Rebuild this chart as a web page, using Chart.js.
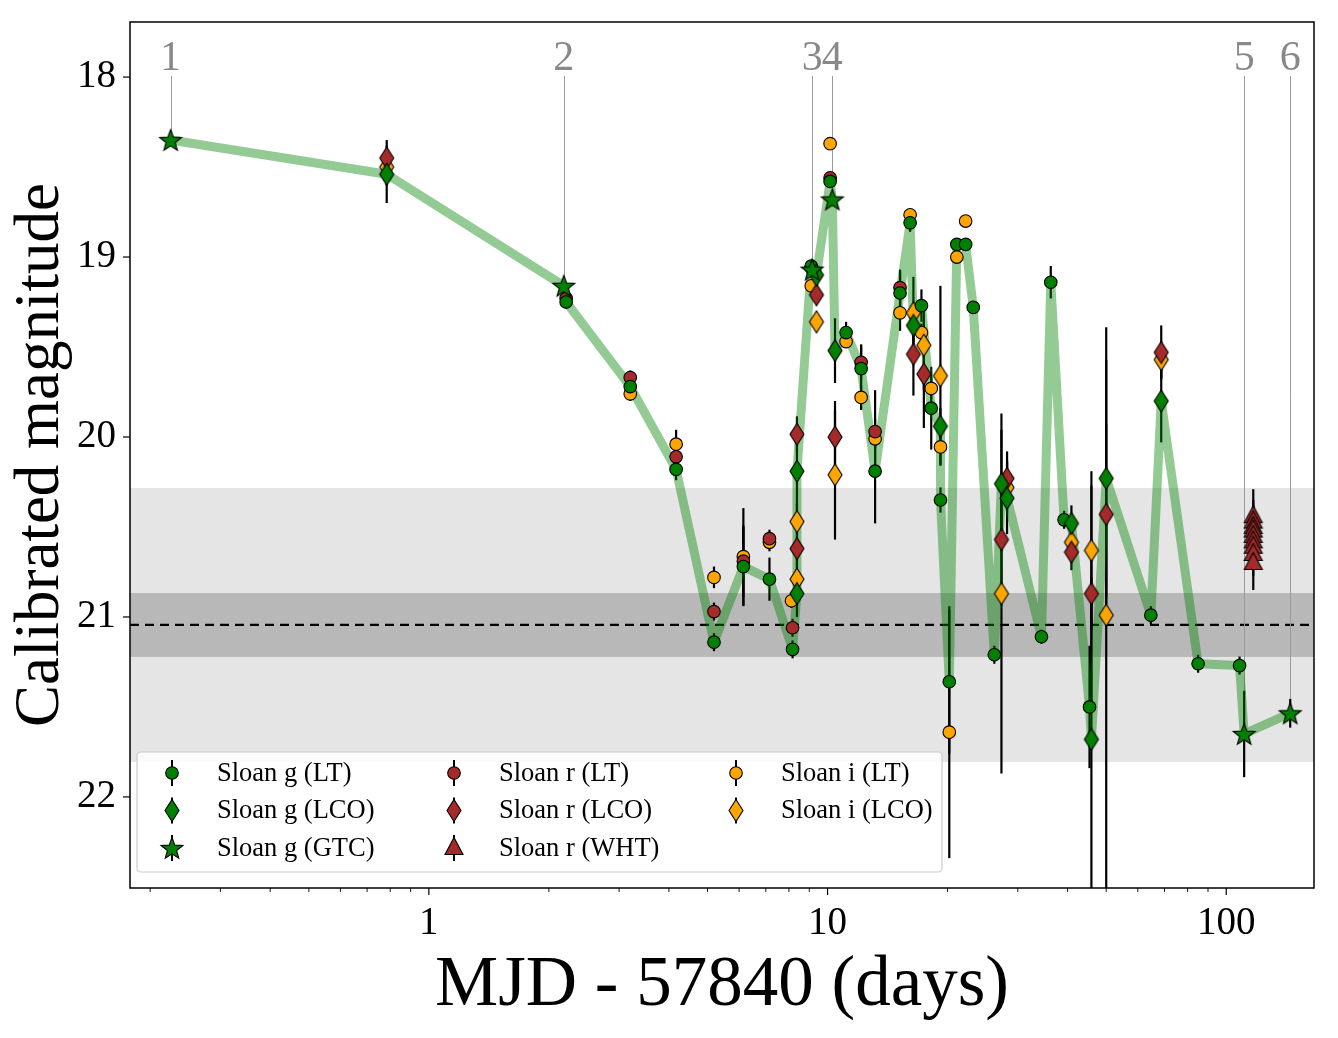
<!DOCTYPE html>
<html><head><meta charset="utf-8">
<script src="https://cdn.jsdelivr.net/npm/chart.js@4"></script>
<style>html,body{margin:0;background:#fff}</style>
</head><body>
<canvas id="c" width="1338" height="1038"></canvas>
<script>
// axis setup
const xTicks=[1,10,100];
const yTicks=[18,19,20,21,22];
const xRange=[0.178,166];
const yRange=[17.694,22.506];
// reference level and bands (mag)
const bandWide=[20.283,21.806];
const bandNarrow=[20.867,21.222];
const refLevel=21.044;

// Sloan g (LT)
const gLT_t=[2.21,3.20,4.17,5.19,6.15,7.15,8.17,9.10,10.15,11.13,12.14,13.16,15.20,16.11,17.2,18.2,19.2,20.2,21.1,22.2,23.2,26.2,34.4,36.3,39.2,45.4,64.7,85.0,108.0];
const gLT_m=[19.25,19.72,20.18,21.14,20.72,20.79,21.18,19.05,18.58,19.42,19.62,20.19,19.20,18.81,19.27,19.84,20.35,21.36,18.93,18.93,19.28,21.21,21.11,19.14,20.46,21.50,20.99,21.26,21.27];
const gLT_e=[0.03,0.04,0.06,0.05,0.22,0.12,0.05,0.03,0.03,0.06,0.13,0.29,0.12,0.05,0.09,0.23,0.07,0.40,0.03,0.03,0.03,0.05,0.04,0.09,0.05,0.34,0.05,0.05,0.05];
// Sloan g (LCO)
const gLCO_t=[0.784,8.38,8.38,9.38,10.44,16.42,19.19,27.3,28.2,40.9,45.9,50.0,68.7];
const gLCO_m=[18.54,20.87,20.19,19.10,19.52,19.38,19.94,20.26,20.34,20.48,21.68,20.23,19.80];
const gLCO_e=[0.16,0.13,0.25,0.04,0.18,0.10,0.10,0.30,0.20,0.10,0.90,0.66,0.23];
// Sloan g (GTC)
const gGTC_t=[0.225,2.18,9.15,10.28,110.9,144.7];
const gGTC_m=[18.35,19.16,19.07,18.68,21.65,21.535];
const gGTC_e=[0.03,0.03,0.03,0.03,0.24,0.08];
const epochLabels=['1','2','3','4','5','6'];
// Sloan r (LT)
const rLT_t=[2.21,3.20,4.17,5.19,6.15,7.15,8.17,9.10,10.15,12.14,13.16,15.20];
const rLT_m=[19.23,19.67,20.11,20.97,20.69,20.565,21.06,19.06,18.56,19.585,19.97,19.17];
const rLT_e=[0.03,0.04,0.05,0.05,0.2,0.05,0.05,0.03,0.03,0.10,0.23,0.10];
// Sloan r (LCO)
const rLCO_t=[0.784,8.38,8.38,9.38,10.44,16.42,17.44,27.3,28.2,40.9,45.9,50.0,68.7];
const rLCO_m=[18.45,19.985,20.62,19.21,20.00,19.54,19.65,20.57,20.23,20.64,20.87,20.43,19.53];
const rLCO_e=[0.10,0.10,0.12,0.05,0.20,0.23,0.30,0.30,0.15,0.10,0.60,0.50,0.15];
// Sloan r (WHT)
const rWHT_t=[116.9,116.9,116.9,116.9,116.9,116.9,116.9,116.9,116.9];
const rWHT_m=[20.44,20.47,20.50,20.52,20.55,20.58,20.61,20.65,20.70];
const rWHT_e=[0.15,0.12,0.12,0.12,0.12,0.12,0.12,0.12,0.15];
// Sloan i (LT)
const iLT_t=[3.20,4.17,5.19,6.15,7.15,8.12,9.10,10.15,11.13,12.14,13.16,15.20,16.11,17.2,18.2,19.2,20.2,21.1,22.2];
const iLT_m=[19.76,20.04,20.78,20.665,20.585,20.91,19.16,18.37,19.47,19.78,20.01,19.31,18.765,19.42,19.73,20.055,21.64,19.00,18.80];
const iLT_e=[0.04,0.08,0.06,0.27,0.05,0.04,0.03,0.02,0.03,0.07,0.05,0.10,0.03,0.05,0.06,0.10,0.70,0.03,0.02];
// Sloan i (LCO)
const iLCO_t=[0.784,8.38,8.38,9.38,10.44,16.42,17.44,19.19,27.3,28.2,40.9,45.9,50.0,68.7];
const iLCO_m=[18.50,20.47,20.79,19.36,20.21,19.31,19.49,19.66,20.87,20.28,20.585,20.63,20.99,19.57];
const iLCO_e=[0.10,0.10,0.12,0.05,0.36,0.20,0.25,0.50,1.00,0.15,0.05,0.44,1.60,0.10];

const cG='#008000',cR='#a52a2a',cI='#ffa500';
const SERIF='"Liberation Serif","DejaVu Serif",serif';
const pts=(t,m)=>t.map((v,i)=>({x:v,y:m[i]}));

function drawMarker(ctx,kind,fill,x,y){
  ctx.save();ctx.fillStyle=fill;ctx.strokeStyle='#000';ctx.lineWidth=1.1;ctx.beginPath();
  if(kind==='circle'){ctx.arc(x,y,6.3,0,Math.PI*2)}
  else if(kind==='diamond'){ctx.moveTo(x,y-11);ctx.lineTo(x+7,y);ctx.lineTo(x,y+11);ctx.lineTo(x-7,y)}
  else if(kind==='triangle'){ctx.moveTo(x,y-10.5);ctx.lineTo(x+9,y+6.5);ctx.lineTo(x-9,y+6.5)}
  else if(kind==='star'){for(let i=0;i<10;i++){const r=i%2?4.8:11.5,a=-Math.PI/2+i*Math.PI/5;ctx.lineTo(x+r*Math.cos(a),y+1+r*Math.sin(a))}}
  ctx.closePath();ctx.fill();ctx.stroke();ctx.restore();
}
function markerImg(kind,fill){
  const c=document.createElement('canvas');c.width=28;c.height=28;
  drawMarker(c.getContext('2d'),kind,fill,14,14);return c;
}
function series(label,t,m,e,kind,color,order){
  return {label,data:pts(t,m),err:e,kind,color,order,showLine:false,
    pointStyle:kind==='circle'?'circle':markerImg(kind,color),
    pointRadius:6.3,backgroundColor:color,borderColor:'#000',borderWidth:1.1};
}
const gAll=[...pts(gLT_t,gLT_m),...pts(gLCO_t,gLCO_m),...pts(gGTC_t,gGTC_m)].sort((a,b)=>a.x-b.x);

const datasets=[
  series('Sloan g (LT)',gLT_t,gLT_m,gLT_e,'circle',cG,2),
  series('Sloan g (LCO)',gLCO_t,gLCO_m,gLCO_e,'diamond',cG,1),
  series('Sloan g (GTC)',gGTC_t,gGTC_m,gGTC_e,'star',cG,0),
  series('Sloan r (LT)',rLT_t,rLT_m,rLT_e,'circle',cR,5),
  series('Sloan r (LCO)',rLCO_t,rLCO_m,rLCO_e,'diamond',cR,4),
  series('Sloan r (WHT)',rWHT_t,rWHT_m,rWHT_e,'triangle',cR,3),
  series('Sloan i (LT)',iLT_t,iLT_m,iLT_e,'circle',cI,7),
  series('Sloan i (LCO)',iLCO_t,iLCO_m,iLCO_e,'diamond',cI,6),
  {label:'g',data:gAll,showLine:true,pointRadius:0,borderColor:'rgba(0,128,0,0.42)',borderWidth:9,
   borderJoinStyle:'round',tension:0,order:10,isLine:true}
];

const decor={id:'decor',
  beforeDatasetsDraw(ch){
    const {ctx,chartArea:a,scales:{x,y}}=ch;
    ctx.save();ctx.beginPath();ctx.rect(a.left,a.top,a.right-a.left,a.bottom-a.top);ctx.clip();
    let y1=y.getPixelForValue(bandWide[0]),y2=y.getPixelForValue(bandWide[1]);
    ctx.fillStyle='#e5e5e5';ctx.fillRect(a.left,y1,a.right-a.left,y2-y1);
    y1=y.getPixelForValue(bandNarrow[0]);y2=y.getPixelForValue(bandNarrow[1]);
    ctx.fillStyle='#b8b8b8';ctx.fillRect(a.left,y1,a.right-a.left,y2-y1);
    const yr=y.getPixelForValue(refLevel);
    ctx.setLineDash([9,6]);ctx.lineWidth=2.2;ctx.strokeStyle='#000';
    ctx.beginPath();ctx.moveTo(a.left,yr);ctx.lineTo(a.right,yr);ctx.stroke();ctx.setLineDash([]);
    // epoch marker lines
    ctx.strokeStyle='#9a9a9a';ctx.lineWidth=1;
    gGTC_t.forEach((t,i)=>{const px=Math.round(x.getPixelForValue(t))+0.5;
      ctx.beginPath();ctx.moveTo(px,a.top+54);ctx.lineTo(px,y.getPixelForValue(gGTC_m[i]));ctx.stroke();});
    // error bars
    ctx.strokeStyle='#000';ctx.lineWidth=2.2;
    ch.data.datasets.forEach(ds=>{if(!ds.err)return;
      ds.data.forEach((p,j)=>{const px=x.getPixelForValue(p.x);
        ctx.beginPath();ctx.moveTo(px,y.getPixelForValue(p.y-ds.err[j]));ctx.lineTo(px,y.getPixelForValue(p.y+ds.err[j]));ctx.stroke();});});
    ctx.restore();
  },
  afterDraw(ch){
    const {ctx,chartArea:a,scales:{x,y}}=ch;
    ctx.save();
    // ticks
    ctx.strokeStyle='#000';ctx.lineWidth=1.2;
    yTicks.forEach(v=>{const py=y.getPixelForValue(v);ctx.beginPath();ctx.moveTo(a.left,py);ctx.lineTo(a.left-7,py);ctx.stroke();});
    xTicks.forEach(v=>{const px=x.getPixelForValue(v);ctx.beginPath();ctx.moveTo(px,a.bottom);ctx.lineTo(px,a.bottom+7);ctx.stroke();});
    ctx.lineWidth=0.9;
    [0.1,1,10].forEach(d=>{for(let k=2;k<10;k++){const v=d*k;if(v<xRange[0]||v>xRange[1])continue;
      const px=x.getPixelForValue(v);ctx.beginPath();ctx.moveTo(px,a.bottom);ctx.lineTo(px,a.bottom+4);ctx.stroke();}});
    // frame
    ctx.lineWidth=1.5;ctx.strokeRect(a.left,a.top,a.right-a.left,a.bottom-a.top);
    // epoch labels
    ctx.fillStyle='#888';ctx.font='42px '+SERIF;ctx.textAlign='center';ctx.textBaseline='alphabetic';
    gGTC_t.forEach((t,i)=>ctx.fillText(epochLabels[i],x.getPixelForValue(t),a.top+48));
    // axis titles
    ctx.fillStyle='#000';
    ctx.font='71px '+SERIF;ctx.fillText('MJD - 57840 (days)',(a.left+a.right)/2,1005);
    ctx.save();ctx.translate(58,(a.top+a.bottom)/2);ctx.rotate(-Math.PI/2);
    ctx.font='63px '+SERIF;ctx.fillText('Calibrated magnitude',0,0);ctx.restore();
    // legend
    const L={x:137,y:752,w:805,h:120};
    ctx.beginPath();ctx.roundRect(L.x,L.y,L.w,L.h,4);ctx.fillStyle='rgba(255,255,255,0.85)';ctx.fill();
    ctx.strokeStyle='#cccccc';ctx.lineWidth=1.2;ctx.stroke();
    ctx.font='26.5px '+SERIF;ctx.textAlign='left';ctx.textBaseline='middle';
    ch.data.datasets.filter(d=>!d.isLine).forEach((d,i)=>{
      const col=Math.floor(i/3),row=i%3;const mx=172+col*282,my=773+row*37.5;
      ctx.strokeStyle='#000';ctx.lineWidth=2;ctx.beginPath();ctx.moveTo(mx,my-13);ctx.lineTo(mx,my+13);ctx.stroke();
      drawMarker(ctx,d.kind,d.color,mx,my);
      ctx.fillStyle='#000';ctx.fillText(d.label,mx+45,my+1);
    });
    ctx.restore();
  }
};

Chart.defaults.font.family=SERIF;
Chart.defaults.color='#000';
new Chart(document.getElementById('c'),{type:'scatter',data:{datasets},
  options:{responsive:false,animation:false,events:[],devicePixelRatio:1,
    layout:{padding:{left:0,right:24,top:22,bottom:0}},
    plugins:{legend:{display:false},tooltip:{enabled:false}},
    scales:{
      x:{type:'logarithmic',min:xRange[0],max:xRange[1],
        afterFit:s=>{s.height=150;s.paddingLeft=0;s.paddingRight=0},
        afterBuildTicks:s=>{s.ticks=xTicks.map(v=>({value:v}))},
        grid:{display:false,drawTicks:true,tickLength:7},border:{display:false},
        ticks:{font:{size:39},padding:5,maxRotation:0,callback:v=>String(v)}},
      y:{type:'linear',reverse:true,min:yRange[0],max:yRange[1],
        afterFit:s=>{s.width=130;s.paddingTop=0;s.paddingBottom=0},
        afterBuildTicks:s=>{s.ticks=yTicks.map(v=>({value:v}))},
        grid:{display:false,drawTicks:true,tickLength:7},border:{display:false},
        ticks:{font:{size:39},padding:7,callback:v=>String(v)}}
    }},
  plugins:[decor]});
</script>
</body></html>
